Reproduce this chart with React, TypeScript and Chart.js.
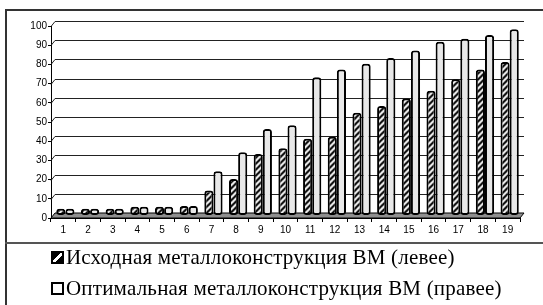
import React, { useEffect, useRef } from 'react';
import { Chart, registerables } from 'chart.js';

Chart.register(...registerables);

const categories = ['1', '2', '3', '4', '5', '6', '7', '8', '9', '10', '11', '12', '13', '14', '15', '16', '17', '18', '19'];
const initialValues = [3.5, 3.5, 3.5, 4.5, 4.5, 5, 13, 19, 32, 35, 40, 41, 53.5, 57, 61, 65, 71, 76, 80];
const optimalValues = [3.5, 3.5, 3.5, 4.5, 4.5, 5, 23, 33, 45, 47, 72, 76, 79, 82, 86, 90.5, 92, 94, 97];
const seriesNames = [
  'Исходная металлоконструкция ВМ (левее)',
  'Оптимальная металлоконструкция ВМ (правее)',
];
const yMin = 0;
const yMax = 100;
const yStep = 10;

const DX = 4;
const DY = 5;

function makeHatch(): CanvasPattern | string {
  const c = document.createElement('canvas');
  c.width = 6;
  c.height = 6;
  const g = c.getContext('2d');
  if (!g) return '#888';
  g.fillStyle = '#f4f4f4';
  g.fillRect(0, 0, 6, 6);
  g.strokeStyle = '#000';
  g.lineWidth = 2;
  g.beginPath();
  g.moveTo(-1, 7);
  g.lineTo(7, -1);
  g.moveTo(-4, 4);
  g.lineTo(4, -4);
  g.moveTo(2, 10);
  g.lineTo(10, 2);
  g.stroke();
  const p = g.createPattern(c, 'repeat');
  return p || '#888';
}

const wall3d = {
  id: 'wall3d',
  beforeDatasetsDraw(chart: any) {
    const { ctx, chartArea: a, scales } = chart;
    const y = scales.y;
    ctx.save();
    ctx.beginPath();
    ctx.moveTo(a.left, a.bottom);
    ctx.lineTo(a.right, a.bottom);
    ctx.lineTo(a.right + DX, a.bottom - DY);
    ctx.lineTo(a.left + DX, a.bottom - DY);
    ctx.closePath();
    ctx.fillStyle = '#8f8f8f';
    ctx.fill();
    ctx.strokeStyle = '#000';
    ctx.lineWidth = 1;
    ctx.stroke();
    ctx.strokeStyle = '#222';
    ctx.lineWidth = 1;
    for (let v = yMin + yStep; v <= yMax; v += yStep) {
      const py = Math.round(y.getPixelForValue(v)) + 0.5;
      ctx.beginPath();
      ctx.moveTo(a.left, py);
      ctx.lineTo(a.left + DX, py - DY);
      ctx.lineTo(a.right + DX, py - DY);
      ctx.stroke();
    }
    ctx.restore();
    ctx.save();
    ctx.translate(DX / 2, -DY / 2);
  },
  afterDatasetsDraw(chart: any) {
    chart.ctx.restore();
  },
};

export default function App() {
  const ref = useRef<HTMLCanvasElement>(null);

  useEffect(() => {
    if (!ref.current) return;
    const hatch = makeHatch();
    const chart = new Chart(ref.current, {
      type: 'bar',
      data: {
        labels: categories,
        datasets: [
          {
            label: seriesNames[0],
            data: initialValues,
            backgroundColor: hatch as any,
            borderColor: '#000',
            borderWidth: 2,
            borderRadius: 3,
            borderSkipped: false,
            categoryPercentage: 0.74,
            barPercentage: 1,
          },
          {
            label: seriesNames[1],
            data: optimalValues,
            backgroundColor: '#e8e8e8',
            borderColor: '#000',
            borderWidth: 2,
            borderRadius: 3,
            borderSkipped: false,
            categoryPercentage: 0.74,
            barPercentage: 1,
          },
        ],
      },
      options: {
        responsive: false,
        animation: false,
        layout: { padding: { left: 0, top: 26, right: 23, bottom: 67 } },
        plugins: { legend: { display: false }, tooltip: { enabled: false } },
        scales: {
          x: {
            type: 'category',
            grid: { offset: true, drawOnChartArea: false, drawTicks: true, tickLength: 4, color: '#000' },
            border: { display: true, color: '#000', width: 1 },
            ticks: {
              font: { family: 'Liberation Sans', size: 10 },
              color: '#000',
              padding: 2,
              maxRotation: 0,
              autoSkip: false,
            },
            afterFit: (s: any) => {
              s.height = 20;
            },
          },
          y: {
            min: yMin,
            max: yMax,
            grid: { drawOnChartArea: false, drawTicks: true, tickLength: 3, color: '#000' },
            border: { display: true, color: '#000', width: 1 },
            ticks: {
              stepSize: yStep,
              font: { family: 'Liberation Sans', size: 10 },
              color: '#000',
              padding: 1,
            },
            afterFit: (s: any) => {
              s.width = 51;
            },
          },
        },
      },
      plugins: [wall3d],
    });
    return () => chart.destroy();
  }, []);

  const legendText: React.CSSProperties = {
    position: 'absolute',
    left: 66,
    fontFamily: '"Liberation Serif", "Times New Roman", serif',
    fontSize: 21,
    letterSpacing: '0.2px',
    lineHeight: '22px',
    color: '#000',
    whiteSpace: 'nowrap',
  };
  const box: React.CSSProperties = {
    position: 'absolute',
    left: 51,
    width: 9,
    height: 9,
    border: '2px solid #000',
  };

  return (
    <div style={{ position: 'fixed', left: 0, top: 0, width: 543, height: 305, background: '#fff', overflow: 'hidden' }}>
      <canvas ref={ref} width={543} height={305} style={{ position: 'absolute', left: 0, top: 0 }} />
      <div style={{ position: 'absolute', left: 5, top: 9, width: 2, height: 296, background: '#333' }} />
      <div style={{ position: 'absolute', left: 5, top: 9, width: 538, height: 2, background: '#333' }} />
      <div style={{ position: 'absolute', left: 5, top: 242, width: 538, height: 2, background: '#555' }} />
      <div
        style={{
          ...box,
          top: 251,
          background: 'linear-gradient(135deg, #000 40%, #fff 40%, #fff 62%, #000 62%)',
        }}
      />
      <div style={{ ...legendText, top: 246 }}>{seriesNames[0]}</div>
      <div style={{ ...box, top: 282, background: '#fff' }} />
      <div style={{ ...legendText, top: 277 }}>{seriesNames[1]}</div>
    </div>
  );
}
